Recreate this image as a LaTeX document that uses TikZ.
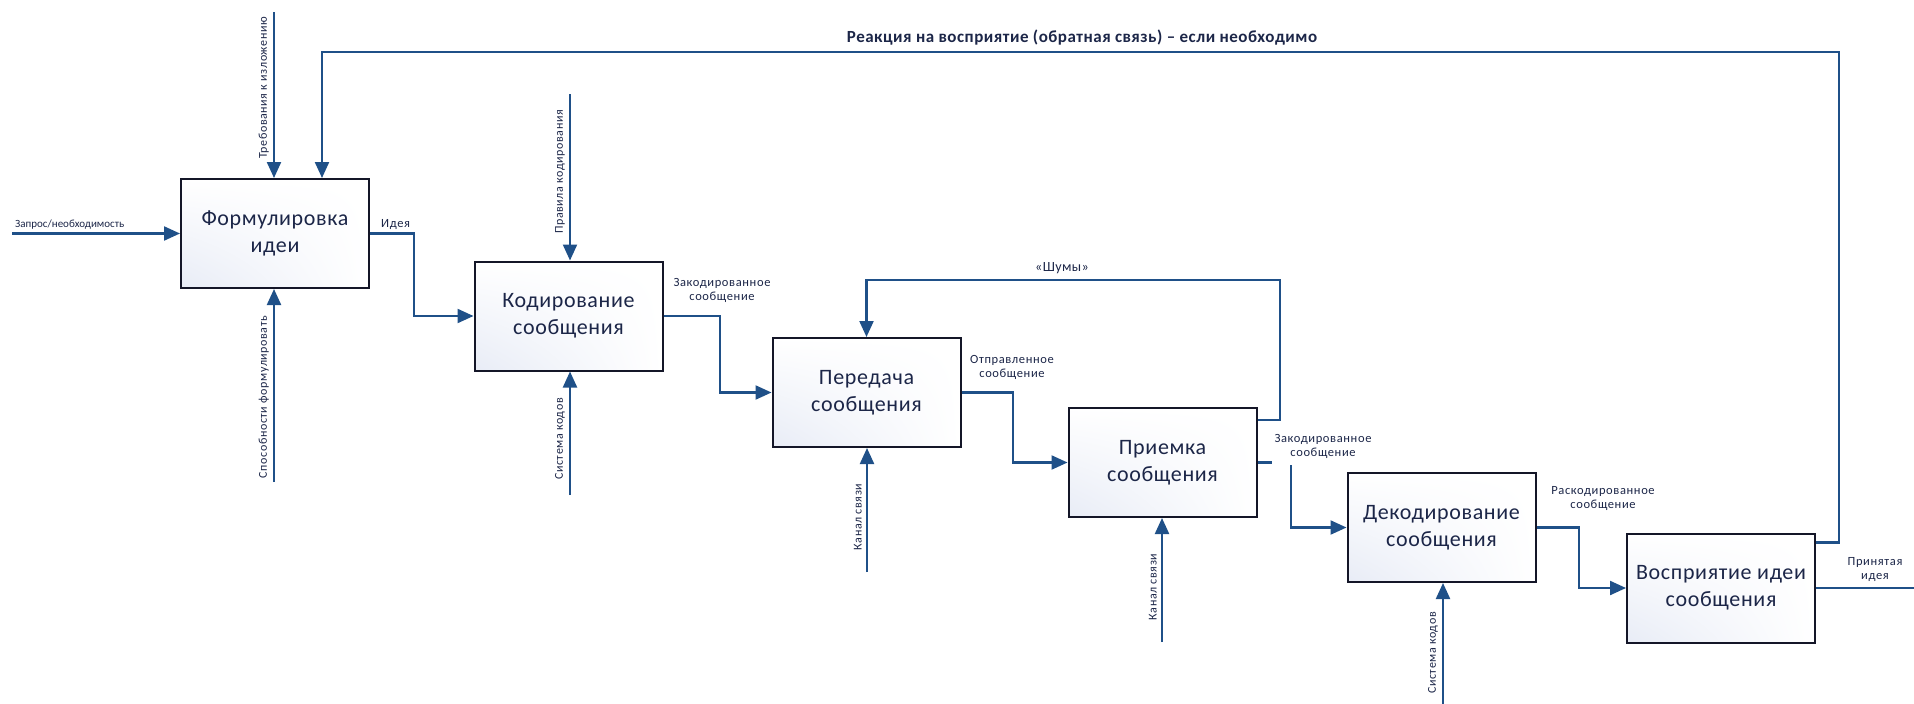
\documentclass[tikz,border=0pt]{standalone}
\usepackage{fontspec}
\setmainfont{Carlito}
\newfontfamily\spaced[LetterSpace=5]{Carlito}
\newfontfamily\spacedbox[LetterSpace=3]{Carlito}
\usetikzlibrary{arrows.meta,shadings}
\definecolor{arr}{RGB}{31,80,136}
\definecolor{txt}{RGB}{28,38,72}
\definecolor{bord}{RGB}{20,22,40}
\definecolor{tint}{RGB}{232,236,246}
\begin{document}
\begin{tikzpicture}[x=1pt,y=-1pt,
  box/.style={draw=bord, line width=2pt, minimum width=188pt, minimum height=109pt,
    inner sep=0pt, align=center, font=\spacedbox\fontsize{22}{27}\selectfont, text=txt,
    lower left=tint, upper right=white, upper left=white, lower right=white},
  flow/.style={draw=arr, line width=2.2pt, -{Triangle[length=16pt,width=14pt]}},
  conn/.style={draw=arr, line width=2.2pt},
  lab/.style={font=\spaced\fontsize{12.5}{14}\selectfont, text=txt, inner sep=0pt, align=center},
  vlab/.style={lab, font=\spaced\fontsize{12}{14}\selectfont, rotate=90, anchor=south}]
\useasboundingbox (0,0) rectangle (1914,704);

% boxes
\node[box] (b1) at (275,233.5) {Формулировка\\идеи};
\node[box] (b2) at (568.5,316) {Кодирование\\сообщения};
\node[box] (b3) at (866.5,392.5) {Передача\\сообщения};
\node[box] (b4) at (1162.5,462.5) {Приемка\\сообщения};
\node[box] (b5) at (1441.5,527.5) {Декодирование\\сообщения};
\node[box] (b6) at (1721,588) {Восприятие идеи\\сообщения};

% coordinates
\coordinate (in1) at (12,233.5);
\coordinate (t1) at (274,12);
\coordinate (u1) at (274,482);
\coordinate (t2) at (570,94);
\coordinate (u2) at (570,495);
\coordinate (u3) at (867,572);
\coordinate (u4) at (1162,642);
\coordinate (u5) at (1443,704);
\coordinate (o1) at (414,0);
\coordinate (o2) at (720,0);
\coordinate (o3) at (1013,0);
\coordinate (o4) at (1272,0);
\coordinate (g4) at (1291,465);
\coordinate (o5) at (1579,0);
\coordinate (e6) at (1914,0);
\coordinate (n1) at (1280,280);
\coordinate (fb1) at (1839,52);
\coordinate (fb2) at (322,52);

% box 1
\draw[flow] (in1) -- (b1.west);
\draw[flow] (t1) -- (t1 |- b1.north);
\draw[flow] (u1) -- (u1 |- b1.south);
\node[vlab] (lt1) at (269,88) {Требования к изложению};
\node[vlab] (lu1) at (269,397) {Способности формулировать};
\node[lab, font=\fontsize{11}{14}\selectfont, anchor=south west] (lin1) at (15,230) {Запрос/необходимость};

% box 2
\draw[flow] (t2) -- (t2 |- b2.north);
\draw[flow] (u2) -- (u2 |- b2.south);
\node[vlab] (lt2) at (565,172) {Правила кодирования};
\node[vlab] (lu2) at (565,439) {Система кодов};

% box 3, 4, 5
\draw[flow] (u3) -- (u3 |- b3.south);
\node[vlab] (lu3) at (862,517) {Канал связи};
\draw[flow] (u4) -- (u4 |- b4.south);
\node[vlab] (lu4) at (1157,587) {Канал связи};
\draw[flow] (u5) -- (u5 |- b5.south);
\node[vlab] (lu5) at (1438,653) {Система кодов};

% outputs
\draw[flow] (b1.east) -- (b1.east -| o1) |- (b2.west);
\node[lab, anchor=south west] (lo1) at (381,230) {Идея};
\draw[flow] (b2.east) -- (b2.east -| o2) |- (b3.west);
\node[lab] (lo2) at (722,290) {Закодированное\\сообщение};
\draw[flow] (b3.east) -- (b3.east -| o3) |- (b4.west);
\node[lab] (lo3) at (1012,367) {Отправленное\\сообщение};
\draw[conn] (b4.east) -- (b4.east -| o4);
\draw[flow] (g4) |- (b5.west);
\node[lab] (lo4) at (1323,446) {Закодированное\\сообщение};
\draw[flow] (b5.east) -- (b5.east -| o5) |- (b6.west);
\node[lab] (lo5) at (1603,499) {Раскодированное\\сообщение};
\draw[conn] (b6.east) -- (b6.east -| e6);
\node[lab] (lo6) at (1875,570) {Принятая\\идея};

% noise
\draw[flow] ([yshift=-13pt]b4.north east) -| (n1) -| (b3.north);
\node[lab, font=\spacedbox\fontsize{14}{16}\selectfont] (lnoise) at (1062,268) {«Шумы»};

% feedback
\draw[flow] ([yshift=-10pt]b6.north east) -| (fb1) -- (fb2) -- (fb2 |- b1.north);
\node[lab, font=\spacedbox\bfseries\fontsize{17}{19}\selectfont] (lfb) at (1082,38) {Реакция на восприятие (обратная связь) – если необходимо};
\end{tikzpicture}
\end{document}
